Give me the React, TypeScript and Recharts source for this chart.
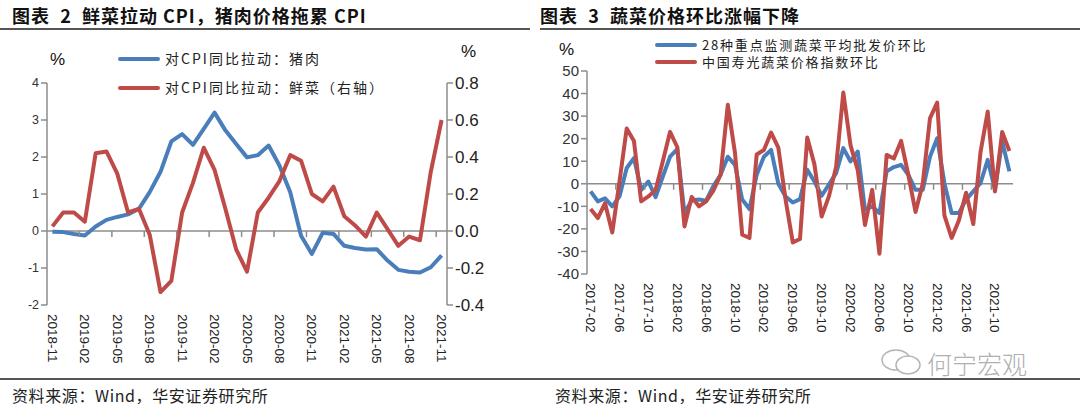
import { LineChart, Line, XAxis, YAxis, ReferenceLine, ReferenceDot, Legend } from 'recharts'

// chart 2: contribution to CPI yoy (pp)
const leftMonths = [
  '2018-11', '2018-12',
  '2019-01', '2019-02', '2019-03', '2019-04', '2019-05', '2019-06', '2019-07', '2019-08', '2019-09', '2019-10', '2019-11', '2019-12',
  '2020-01', '2020-02', '2020-03', '2020-04', '2020-05', '2020-06', '2020-07', '2020-08', '2020-09', '2020-10', '2020-11', '2020-12',
  '2021-01', '2021-02', '2021-03', '2021-04', '2021-05', '2021-06', '2021-07', '2021-08', '2021-09', '2021-10', '2021-11',
]
const porkPull = [
  -0.02, -0.03, -0.08, -0.12, 0.12, 0.3, 0.38, 0.45, 0.6, 1.05, 1.6, 2.42, 2.62, 2.33, 2.76, 3.2, 2.72, 2.35, 1.99,
  2.05, 2.31, 1.77, 1.05, -0.13, -0.62, -0.05, -0.08, -0.4, -0.46, -0.5, -0.49, -0.8, -1.05, -1.1, -1.12, -0.98, -0.66,
]
const vegPull = [
  0.025, 0.1, 0.1, 0.05, 0.42, 0.43, 0.31, 0.1, 0.12, -0.02, -0.33, -0.27, 0.1, 0.26, 0.45, 0.33, 0.12, -0.1, -0.22,
  0.1, 0.18, 0.27, 0.41, 0.38, 0.2, 0.16, 0.24, 0.08, 0.03, -0.03, 0.1, 0.01, -0.08, -0.03, -0.05, 0.32, 0.6,
]
const leftTicks = [-2, -1, 0, 1, 2, 3, 4]
const rightTicks = [-0.4, -0.2, 0, 0.2, 0.4, 0.6, 0.8]

// chart 3: vegetable prices mom (%)
const rightMonths = [
  '2017-02', '2017-03', '2017-04', '2017-05', '2017-06', '2017-07', '2017-08', '2017-09', '2017-10', '2017-11', '2017-12',
  '2018-01', '2018-02', '2018-03', '2018-04', '2018-05', '2018-06', '2018-07', '2018-08', '2018-09', '2018-10', '2018-11', '2018-12',
  '2019-01', '2019-02', '2019-03', '2019-04', '2019-05', '2019-06', '2019-07', '2019-08', '2019-09', '2019-10', '2019-11', '2019-12',
  '2020-01', '2020-02', '2020-03', '2020-04', '2020-05', '2020-06', '2020-07', '2020-08', '2020-09', '2020-10', '2020-11', '2020-12',
  '2021-01', '2021-02', '2021-03', '2021-04', '2021-05', '2021-06', '2021-07', '2021-08', '2021-09', '2021-10', '2021-11', '2021-12',
]
const wholesale28 = [
  -3.4, -7.8, -6.4, -10, -5.6, 7, 11.4, -2.7, 1, -5.9, 3.2, 12, 15.4, -13, -7.4, -7, -7.5, -1, 4, 12,
  8.4, -7, -11.2, 4, 12, 15, 0, -5.6, -8.3, -6.8, 6.2, 1, -5.3, -0.4, 4.7, 15.8, 9.9, 14.3, -11.5, -10,
  -13, 5.5, 7.4, 8.4, 4, -2.7, -2.7, 12, 20.2, 0.3, -13, -13, -7, -3.4, 0.3, 10.6, -2.7, 18.8, 5.5,
]
const shouguang = [
  -11.2, -15.2, -8.6, -21.6, 1, 24.5, 19, -7.8, -5.6, -2.7, 10, 23, 16.3, -18.9, -5.8, -10, -7.8, -3, 4, 35,
  13.6, -22.6, -24, 13, 15, 22.7, 16, -7, -26, -24.5, 20.5, 8.6, -14.5, -5.6, 7.5, 40.5, 17, 6, -18.3, -2.7,
  -31, 12.8, 11.2, 19, 4, -12.5, 0, 29, 36, -14, -24, -16.3, -4, -17.8, 14, 32, -3.4, 23, 14.5,
]
const momTicks = [-40, -30, -20, -10, 0, 10, 20, 30, 40, 50]

const BLUE = '#4a7ebb'
const RED = '#be4b48'
const AXIS = '#8c8c8c'
const CJK = '"Noto Sans CJK SC", "Liberation Sans", sans-serif'
const NUM = '"Liberation Sans", Arial, sans-serif'

const leftData = leftMonths.map((m, i) => ({ m, pork: porkPull[i], veg: vegPull[i] }))
const rightData = rightMonths.map((m, i) => ({ m, w28: wholesale28[i], sg: shouguang[i] }))

const VTick = ({ x, y, payload }: any) => (
  <text
    transform={`translate(${x},${y + 1}) rotate(90)`}
    textAnchor="start"
    dominantBaseline="central"
    fontSize={13.5}
    fontFamily={NUM}
    fill="#222"
  >
    {payload.value}
  </text>
)

// small tick mark hanging below the zero line, half a band left of the category
const zeroTick = (band: number) => (p: any) => (
  <line x1={p.cx - band / 2} x2={p.cx - band / 2} y1={p.cy} y2={p.cy + 6} stroke={AXIS} strokeWidth={1.5} />
)

const legendContent = (items: { label: string; color: string }[], gap: number, fontSize: number, spacing: number) => () => (
  <div style={{ fontFamily: CJK, fontSize, lineHeight: `${gap}px`, color: '#222', letterSpacing: spacing }}>
    {items.map((it) => (
      <div key={it.label} style={{ display: 'flex', alignItems: 'center', height: gap, whiteSpace: 'nowrap' }}>
        <span style={{ width: 42, height: 4, borderRadius: 2, background: it.color, marginRight: 5, flex: 'none' }} />
        <span>{it.label}</span>
      </div>
    ))}
  </div>
)

const titleStyle = {
  position: 'absolute' as const,
  top: 2,
  fontFamily: CJK,
  fontWeight: 700,
  fontSize: 18,
  letterSpacing: 1,
  color: '#111',
  whiteSpace: 'pre' as const,
}

const sourceStyle = {
  position: 'absolute' as const,
  top: 383,
  fontFamily: CJK,
  fontSize: 16,
  letterSpacing: 0.6,
  color: '#222',
}

export default function App() {
  const leftBand = 400 / leftMonths.length
  const rightBand = 426 / rightMonths.length

  return (
    <div style={{ position: 'relative', width: 1080, height: 410, background: '#fff', overflow: 'hidden' }}>
      <style>{'body{margin:0}'}</style>

      {/* titles */}
      <div style={{ ...titleStyle, left: 12 }}>图表  2  鲜菜拉动 CPI，猪肉价格拖累 CPI</div>
      <div style={{ ...titleStyle, left: 540 }}>图表  3  蔬菜价格环比涨幅下降</div>
      <div style={{ position: 'absolute', left: 0, top: 28, width: 530, height: 1.5, background: '#555' }} />
      <div style={{ position: 'absolute', left: 540, top: 28, width: 540, height: 1.5, background: '#555' }} />

      {/* chart 2 */}
      <div style={{ position: 'absolute', left: 0, top: 0 }}>
        <LineChart width={540} height={410} data={leftData} margin={{ top: 83, right: 33, bottom: 45, left: 7 }}>
          <XAxis
            dataKey="m"
            height={60}
            interval={2}
            axisLine={false}
            tickLine={false}
            tick={<VTick />}
            padding={{ left: leftBand / 2, right: leftBand / 2 }}
          />
          <YAxis
            yAxisId="left"
            width={40}
            domain={[-2, 4]}
            ticks={leftTicks}
            interval={0}
            axisLine={{ stroke: AXIS, strokeWidth: 1.5 }}
            tickLine={{ stroke: AXIS, strokeWidth: 1.5 }}
            tickSize={6}
            tick={{ fill: '#333', fontSize: 12.5, fontFamily: NUM }}
          />
          <YAxis
            yAxisId="right"
            orientation="right"
            width={60}
            domain={[-0.4, 0.8]}
            ticks={rightTicks}
            interval={0}
            axisLine={{ stroke: AXIS, strokeWidth: 1.5 }}
            tickLine={{ stroke: AXIS, strokeWidth: 1.5 }}
            tickSize={6}
            tickFormatter={(v: number) => v.toFixed(1)}
            tick={{ fill: '#222', fontSize: 17, fontFamily: NUM }}
          />
          <ReferenceLine yAxisId="left" y={0} stroke={AXIS} strokeWidth={1.5} />
          {leftMonths.map((m, i) =>
            i > 0 && i % 3 === 0 ? (
              <ReferenceDot key={m} yAxisId="left" x={m} y={0} r={0} shape={zeroTick(leftBand)} />
            ) : null
          )}
          <Line yAxisId="left" dataKey="pork" name="对CPI同比拉动：猪肉" stroke={BLUE} strokeWidth={4} dot={false} strokeLinejoin="round" isAnimationActive={false} />
          <Line yAxisId="right" dataKey="veg" name="对CPI同比拉动：鲜菜（右轴）" stroke={RED} strokeWidth={4} dot={false} strokeLinejoin="round" isAnimationActive={false} />
          <Legend
            layout="vertical"
            align="center"
            verticalAlign="middle"
            content={legendContent(
              [
                { label: '对CPI同比拉动：猪肉', color: BLUE },
                { label: '对CPI同比拉动：鲜菜（右轴）', color: RED },
              ],
              29,
              14,
              2
            )}
            wrapperStyle={{ left: 118, top: 44, width: 340 }}
          />
        </LineChart>
      </div>
      <div style={{ position: 'absolute', left: 50, top: 50, fontFamily: NUM, fontSize: 17, color: '#111' }}>%</div>
      <div style={{ position: 'absolute', left: 461, top: 42, fontFamily: NUM, fontSize: 17, color: '#111' }}>%</div>

      {/* chart 3 */}
      <div style={{ position: 'absolute', left: 540, top: 0 }}>
        <LineChart width={540} height={410} data={rightData} margin={{ top: 71, right: 67, bottom: 76, left: 7 }}>
          <XAxis
            dataKey="m"
            height={60}
            interval={3}
            axisLine={false}
            tickLine={false}
            tick={<VTick />}
            padding={{ left: rightBand / 2, right: rightBand / 2 }}
          />
          <YAxis
            width={40}
            domain={[-40, 50]}
            ticks={momTicks}
            interval={0}
            axisLine={{ stroke: AXIS, strokeWidth: 1.5 }}
            tickLine={{ stroke: AXIS, strokeWidth: 1.5 }}
            tickSize={6}
            tick={{ fill: '#333', fontSize: 15, fontFamily: NUM }}
          />
          <ReferenceLine y={0} stroke={AXIS} strokeWidth={1.5} />
          {rightMonths.map((m, i) =>
            i > 0 && i % 4 === 0 ? <ReferenceDot key={m} x={m} y={0} r={0} shape={zeroTick(rightBand)} /> : null
          )}
          <Line dataKey="w28" name="28种重点监测蔬菜平均批发价环比" stroke={BLUE} strokeWidth={4} dot={false} strokeLinejoin="round" isAnimationActive={false} />
          <Line dataKey="sg" name="中国寿光蔬菜价格指数环比" stroke={RED} strokeWidth={4} dot={false} strokeLinejoin="round" isAnimationActive={false} />
          <Legend
            layout="vertical"
            align="center"
            verticalAlign="middle"
            content={legendContent(
              [
                { label: '28种重点监测蔬菜平均批发价环比', color: BLUE },
                { label: '中国寿光蔬菜价格指数环比', color: RED },
              ],
              17,
              13,
              1.8
            )}
            wrapperStyle={{ left: 115, top: 36, width: 340 }}
          />
        </LineChart>
      </div>
      <div style={{ position: 'absolute', left: 559, top: 40, fontFamily: NUM, fontSize: 17, color: '#111' }}>%</div>

      {/* watermark */}
      <svg style={{ position: 'absolute', left: 880, top: 348 }} width={44} height={28}>
        <ellipse cx={16} cy={12} rx={14} ry={10} fill="none" stroke="#b5b5b5" strokeWidth={1.5} />
        <ellipse cx={28} cy={17} rx={12} ry={9} fill="#fff" stroke="#b5b5b5" strokeWidth={1.5} />
      </svg>
      <div style={{ position: 'absolute', left: 927, top: 345, fontFamily: CJK, fontWeight: 300, fontSize: 25, color: '#b0b0b0' }}>
        何宁宏观
      </div>

      {/* sources */}
      <div style={{ position: 'absolute', left: 0, top: 378, width: 540, height: 1.5, background: '#555' }} />
      <div style={{ position: 'absolute', left: 540, top: 378, width: 540, height: 1.5, background: '#555' }} />
      <div style={{ ...sourceStyle, left: 12 }}>资料来源：Wind，华安证券研究所</div>
      <div style={{ ...sourceStyle, left: 555 }}>资料来源：Wind，华安证券研究所</div>
    </div>
  )
}
